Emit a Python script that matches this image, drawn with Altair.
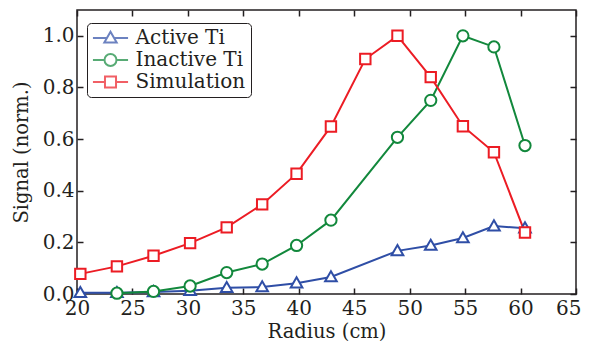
import altair as alt
import pandas as pd

series_names = ["Active Ti", "Inactive Ti", "Simulation"]
colors = ["#2f4ea6", "#12883c", "#ec1c24"]

active_r = [20.3, 23.6, 26.9, 30.2, 33.5, 36.7, 39.8, 42.9, 48.9, 51.9, 54.8, 57.6, 60.4]
active_s = [0.005, 0.005, 0.008, 0.013, 0.024, 0.027, 0.042, 0.066, 0.167, 0.188, 0.217, 0.263, 0.255]

inactive_r = [23.6, 26.9, 30.2, 33.5, 36.7, 39.8, 42.9, 48.9, 51.9, 54.8, 57.6, 60.4]
inactive_s = [0.003, 0.01, 0.031, 0.083, 0.116, 0.188, 0.286, 0.607, 0.75, 1.0, 0.957, 0.575]

sim_r = [20.3, 23.6, 26.9, 30.2, 33.5, 36.7, 39.8, 42.9, 46.0, 48.9, 51.9, 54.8, 57.6, 60.4]
sim_s = [0.078, 0.107, 0.148, 0.197, 0.258, 0.347, 0.466, 0.649, 0.91, 1.0, 0.84, 0.65, 0.549, 0.238]

x_ticks = [20, 25, 30, 35, 40, 45, 50, 55, 60, 65]
y_ticks = [0.0, 0.2, 0.4, 0.6, 0.8, 1.0]

rows = []
for name, rs, ss in [(series_names[0], active_r, active_s),
                     (series_names[1], inactive_r, inactive_s),
                     (series_names[2], sim_r, sim_s)]:
    for r, s in zip(rs, ss):
        rows.append({"series": name, "r": r, "s": s})
df = pd.DataFrame(rows)

W, H = 499, 284
TXT = "#231f20"
FONT = "DejaVu Serif"
FS_TICK = 20
FS_TITLE = 19.5
FS_LEG = 20

# marker shapes (unit coordinates)
tri = "M0,-0.95L0.95,0.7L-0.95,0.7Z"
circ = "M-0.92,0A0.92,0.92 0 1,0 0.92,0A0.92,0.92 0 1,0 -0.92,0Z"
sq = "M-0.85,-0.85H0.85V0.85H-0.85Z"
L = 2.7
tri_leg = f"M-{L},0H-0.55M0.55,0H{L}" + tri
circ_leg = f"M-{L},0H-0.92M0.92,0H{L}" + circ
sq_leg = f"M-{L},0H-0.85M0.85,0H{L}" + sq

xscale = alt.Scale(domain=[20, 65], nice=False, zero=False)
yscale = alt.Scale(domain=[0, 1.1], nice=False, zero=False)
cscale = alt.Scale(domain=series_names, range=colors)
shape_plot = alt.Scale(domain=series_names, range=[tri, circ, sq])
shape_leg = alt.Scale(domain=series_names, range=[tri_leg, circ_leg, sq_leg])


def tick_axis(orient, offset, values):
    return alt.Axis(orient=orient, offset=offset, values=values, labels=False,
                    title=None, domain=False, ticks=True, tickSize=6,
                    tickWidth=1.5, tickColor=TXT, grid=False)


main_x = alt.Axis(orient="bottom", values=x_ticks[:-1], format="d", ticks=False,
                  domain=False, grid=False, title="Radius (cm)",
                  labelBaseline="alphabetic", labelPadding=20,
                  labelFlush=False, labelOverlap=False,
                  titleBaseline="alphabetic", titleX=W / 2, titleY=43,
                  titleAlign="center")
# last x label, kept inside the page edge
last_x = alt.Axis(orient="bottom", values=x_ticks[-1:], format="d", ticks=False,
                  domain=False, grid=False, title=None,
                  labelBaseline="alphabetic", labelPadding=20,
                  labelFlush=False, labelOverlap=False,
                  labelAlign="right", labelOffset=5)
main_y = alt.Axis(orient="left", values=y_ticks, format=".1f", ticks=False,
                  domain=False, grid=False, title="Signal (norm.)", labelPadding=3,
                  labelFlush=False, labelOverlap=False,
                  titleBaseline="alphabetic", titleX=-50, titleY=H / 2,
                  titleAlign="center", titleAngle=270)

base = alt.Chart(df)

lines = base.mark_line(strokeWidth=2).encode(
    x=alt.X("r:Q", scale=xscale, axis=main_x),
    y=alt.Y("s:Q", scale=yscale, axis=main_y),
    stroke=alt.Stroke("series:N", scale=cscale, legend=None),
    order=alt.Order("r:Q"),
)

points = base.mark_point(fill="white", strokeWidth=2, size=150, opacity=1).encode(
    x=alt.X("r:Q", scale=xscale, axis=tick_axis("top", -H, x_ticks)),
    y=alt.Y("s:Q", scale=yscale, axis=tick_axis("right", -W, y_ticks)),
    stroke=alt.Stroke("series:N", scale=cscale, legend=None),
    shape=alt.Shape("series:N", scale=shape_plot, legend=None),
)

legend = alt.Legend(orient="none", legendX=10, legendY=13, title=None,
                    strokeColor=TXT, fillColor="white", padding=5, cornerRadius=4,
                    symbolSize=169, symbolStrokeWidth=2, symbolOffset=8.5,
                    labelOffset=15, labelFont=FONT, labelFontSize=FS_LEG,
                    labelColor=TXT, rowPadding=2, symbolFillColor="white")

leg_layer = base.mark_point(fill="white", strokeWidth=2, size=0).encode(
    x=alt.X("r:Q", scale=xscale, axis=tick_axis("bottom", -H, x_ticks)),
    y=alt.Y("s:Q", scale=yscale, axis=tick_axis("left", -W, y_ticks)),
    stroke=alt.Stroke("series:N", scale=cscale, legend=legend),
    shape=alt.Shape("series:N", scale=shape_leg, legend=legend),
)

label_layer = base.mark_point(size=0, opacity=0).encode(
    x=alt.X("r:Q", scale=xscale, axis=last_x),
    y=alt.Y("s:Q", scale=yscale, axis=None),
)

chart = alt.layer(lines, points, leg_layer, label_layer).resolve_scale(
    shape="independent", stroke="independent"
).resolve_axis(
    x="independent", y="independent"
).properties(
    width=W, height=H,
    autosize=alt.AutoSizeParams(type="none"),
    padding={"left": 69, "top": 2, "right": 5, "bottom": 47},
    background="white",
).configure_view(
    stroke=TXT, strokeWidth=1.5
).configure_axis(
    labelFont=FONT, titleFont=FONT,
    labelFontSize=FS_TICK, titleFontSize=FS_TITLE,
    labelColor=TXT, titleColor=TXT, titleFontWeight="normal", grid=False,
)

chart.save("out.html", embed_options={"renderer": "svg", "actions": False})
